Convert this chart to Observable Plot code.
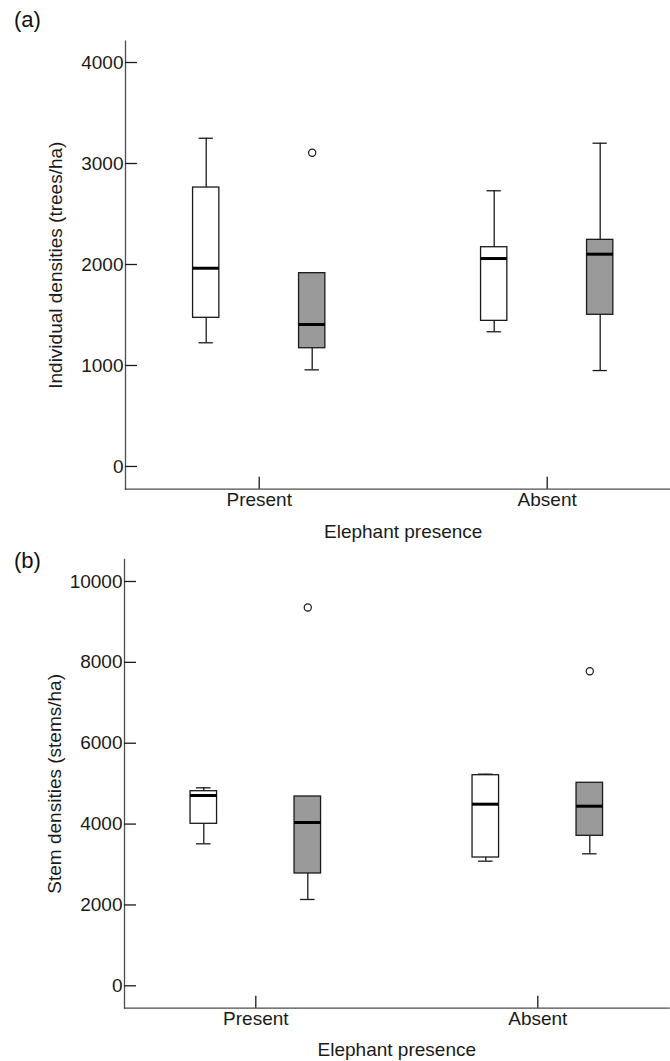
<!DOCTYPE html>
<html>
<head>
<meta charset="utf-8">
<script src="https://cdn.jsdelivr.net/npm/d3@7"></script>
<script src="https://cdn.jsdelivr.net/npm/@observablehq/plot@0.6"></script>
<style>
  html, body { margin: 0; padding: 0; background: #fff; }
  #page { position: relative; width: 670px; height: 1061px; overflow: hidden; font-family: "Liberation Sans", Arial, sans-serif; }
  .panel-tag { position: absolute; left: 14px; font-size: 22px; line-height: 22px; color: #111; z-index: 5; }
  .chart { position: absolute; left: 0; z-index: 1; }
</style>
</head>
<body>
<div id="page">
  <div class="chart" id="chartA" style="top:0px"></div>
  <div class="chart" id="chartB" style="top:545px"></div>
  <div class="panel-tag" style="top:9px">(a)</div>
  <div class="panel-tag" style="top:550px">(b)</div>
</div>
<script>
// ---- categories ----
const groups = ["Present", "Absent"];
const seriesKeys = ["open", "shaded"];
const boxGroup = ["Present", "Present", "Absent", "Absent"];
const boxSeries = ["open", "shaded", "open", "shaded"];
const xTitle = "Elephant presence";

// ---- panel (a): individual densities (trees/ha) ----
const aTitle = "Individual densities (trees/ha)";
const aLow    = [1225,  957, 1334,  950];
const aQ1     = [1472, 1171, 1442, 1502];
const aMedian = [1963, 1406, 2059, 2102];
const aQ3     = [2762, 1914, 2171, 2244];
const aHigh   = [3250, 1914, 2730, 3201];
const aOutlierGroup  = ["Present"];
const aOutlierSeries = ["shaded"];
const aOutlierValue  = [3106];
const aTicks = [0, 1000, 2000, 3000, 4000];

// ---- panel (b): stem densities (stems/ha) ----
const bTitle = "Stem densities (stems/ha)";
const bLow    = [3512, 2135, 3082, 3265];
const bQ1     = [4007, 2778, 3173, 3710];
const bMedian = [4707, 4039, 4492, 4442];
const bQ3     = [4813, 4682, 5209, 5021];
const bHigh   = [4897, 4682, 5234, 5021];
const bOutlierGroup  = ["Present", "Absent"];
const bOutlierSeries = ["shaded", "shaded"];
const bOutlierValue  = [9357, 7781];
const bTicks = [0, 2000, 4000, 6000, 8000, 10000];

const fillColors = ["#ffffff", "#9a9a9a"];
const ink = "#1a1a1a";
const axisInk = "#4d4d4d";

function rowsOf(low, q1, median, q3, high) {
  return boxGroup.map((g, i) => ({group: g, series: boxSeries[i], low: low[i], q1: q1[i], median: median[i], q3: q3[i], high: high[i]}));
}
function outliersOf(gs, ss, vs) {
  return vs.map((v, i) => ({group: gs[i], series: ss[i], value: v}));
}

function boxPlot(cfg) {
  const rows = rowsOf(...cfg.stats);
  const outs = outliersOf(...cfg.outliers);
  return Plot.plot({
    width: 670,
    height: cfg.height,
    marginTop: cfg.marginTop,
    marginBottom: cfg.marginBottom,
    marginLeft: cfg.marginLeft,
    marginRight: cfg.marginRight,
    style: {fontFamily: "'Liberation Sans', Arial, sans-serif", fontSize: "19px", color: ink, background: "transparent", overflow: "hidden"},
    fx: {domain: groups, paddingInner: cfg.fxPadInner, paddingOuter: 0, round: false, label: null},
    x: {domain: seriesKeys, paddingInner: cfg.xPadInner, paddingOuter: cfg.xPadOuter, round: false, axis: null},
    y: {domain: cfg.yDomain, label: null},
    color: {domain: seriesKeys, range: fillColors},
    marks: [
      Plot.frame({anchor: "left", facet: "super", stroke: axisInk, strokeWidth: 1.3}),
      Plot.frame({anchor: "bottom", facet: "super", stroke: axisInk, strokeWidth: 1.3}),
      Plot.axisY({
        ticks: cfg.ticks, tickFormat: d => String(d), tickSize: -12, tickPadding: 14,
        stroke: ink, strokeWidth: 1.3, fill: ink,
        label: cfg.yTitle, labelAnchor: "center", labelOffset: cfg.yLabelOffset, labelArrow: "none"
      }),
      Plot.axisFx({
        anchor: "bottom", tickSize: -12, tickPadding: 15,
        stroke: ink, strokeWidth: 1.3, fill: ink,
        label: xTitle, labelAnchor: "center", labelOffset: cfg.xLabelOffset, labelArrow: "none"
      }),
      // whiskers
      Plot.ruleX(rows, {fx: "group", x: "series", y1: "low", y2: "high", stroke: ink, strokeWidth: 1.3}),
      // boxes
      Plot.barY(rows, {fx: "group", x: "series", y1: "q1", y2: "q3", fill: "series", stroke: ink, strokeWidth: 1.3}),
      // whisker caps
      Plot.tickY(rows.filter(d => d.high > d.q3), {fx: "group", x: "series", y: "high", stroke: ink, strokeWidth: 1.3, insetLeft: 6, insetRight: 6}),
      Plot.tickY(rows.filter(d => d.low < d.q1), {fx: "group", x: "series", y: "low", stroke: ink, strokeWidth: 1.3, insetLeft: 6, insetRight: 6}),
      // medians
      Plot.tickY(rows, {fx: "group", x: "series", y: "median", stroke: "#000", strokeWidth: 3}),
      // outliers
      Plot.dot(outs, {fx: "group", x: "series", y: "value", r: 3.6, stroke: ink, strokeWidth: 1.2, fill: "none"})
    ]
  });
}

document.getElementById("chartA").append(boxPlot({
  stats: [aLow, aQ1, aMedian, aQ3, aHigh],
  outliers: [aOutlierGroup, aOutlierSeries, aOutlierValue],
  ticks: aTicks,
  yTitle: aTitle,
  yDomain: [-225, 4211],
  height: 545,
  marginTop: 40.7,
  marginBottom: 56.3,
  marginLeft: 125,
  marginRight: -10.4,
  fxPadInner: 0.0715,
  xPadInner: 0.752,
  xPadOuter: 0.6375,
  yLabelOffset: 77,
  xLabelOffset: 49
}));

document.getElementById("chartB").append(boxPlot({
  stats: [bLow, bQ1, bMedian, bQ3, bHigh],
  outliers: [bOutlierGroup, bOutlierSeries, bOutlierValue],
  ticks: bTicks,
  yTitle: bTitle,
  yDomain: [-554, 10544],
  height: 516,
  marginTop: 14,
  marginBottom: 53.3,
  marginLeft: 124,
  marginRight: 1.4,
  fxPadInner: 0.0688,
  xPadInner: 0.745,
  xPadOuter: 0.635,
  yLabelOffset: 77,
  xLabelOffset: 48
}));
</script>
</body>
</html>
